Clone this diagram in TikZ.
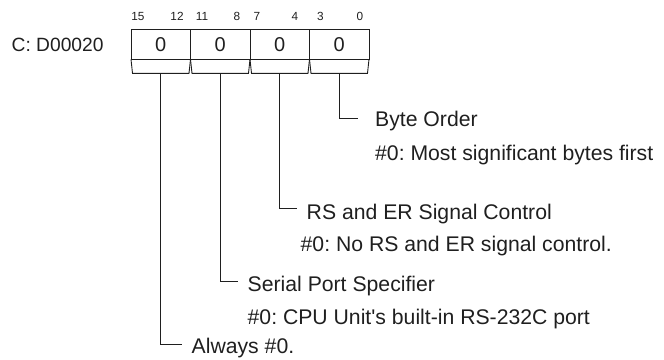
\documentclass[tikz,border=0pt]{standalone}
\usepackage{fontspec}
\setmainfont{Liberation Sans}[Ligatures=TeXOff]
\usetikzlibrary{calc}
\frenchspacing
\begin{document}
\begin{tikzpicture}[x=1pt,y=-1pt,
  ln/.style={line width=0.9pt, draw=black!88},
  lbl/.style={anchor=base west, inner sep=0pt, font=\fontsize{21.2}{24}\selectfont, text=black!88},
  bitno/.style={anchor=base, inner sep=0pt, font=\fontsize{11.8}{13}\selectfont, text=black!88},
  cell/.style={ln, draw, minimum width=59.5pt, minimum height=30pt, inner sep=0pt, outer sep=0pt,
    font=\fontsize{20}{24}\selectfont, text=black!88},
]
\useasboundingbox (0,0) rectangle (664,359);

% register name
\node[lbl, font=\fontsize{19.2}{24}\selectfont] (reg) at (11.5,51.7) {C: D00020};

% cells
\node[cell] (c1) at (160.75,44.3) {0};
\node[cell] (c2) at (220.25,44.3) {0};
\node[cell] (c3) at (279.75,44.3) {0};
\node[cell] (c4) at (339.25,44.3) {0};

% brackets
\foreach \c in {c1,c2,c3,c4}{
  \draw[ln] (\c.south west) -- ++(1.5,14) -- ($(\c.south east)+(-1.5,14)$) -- (\c.south east);
}
\coordinate (b1) at ($(c1.south)+(0,14)$);
\coordinate (b2) at ($(c2.south)+(0,14)$);
\coordinate (b3) at ($(c3.south)+(0,14)$);
\coordinate (b4) at ($(c4.south)+(0,14)$);

% bit numbers
\node[bitno] (n15) at (138,20) {15};
\node[bitno] (n12) at (177,20) {12};
\node[bitno] (n11) at (202,20) {11};
\node[bitno] (n8)  at (237,20) {8};
\node[bitno] (n7)  at (257,20) {7};
\node[bitno] (n4)  at (295,20) {4};
\node[bitno] (n3)  at (320.5,20) {3};
\node[bitno] (n0)  at (360,20) {0};

% labels
\node[lbl] (byte)  at (375,126.7) {Byte Order};
\node[lbl] (byted) at (375,160) {\#0: Most significant bytes first};
\node[lbl] (rs)    at (306.5,219) {RS and ER Signal Control};
\node[lbl] (rsd)   at (300.5,251.7) {\#0: No RS and ER signal control.};
\node[lbl] (ser)   at (247.5,291.7) {Serial Port Specifier};
\node[lbl] (serd)  at (247.5,324.3) {\#0: CPU Unit's built-in RS-232C port};
\node[lbl] (alw)   at (191.5,353.3) {Always \#0.};

% elbow ends
\coordinate (e4) at (358,118.3);
\coordinate (e3) at (297,208.3);
\coordinate (e2) at (238,281);
\coordinate (e1) at (181.7,344.3);

\draw[ln] (b4) |- (e4);
\draw[ln] (b3) |- (e3);
\draw[ln] (b2) |- (e2);
\draw[ln] (b1) |- (e1);
\end{tikzpicture}
\end{document}
